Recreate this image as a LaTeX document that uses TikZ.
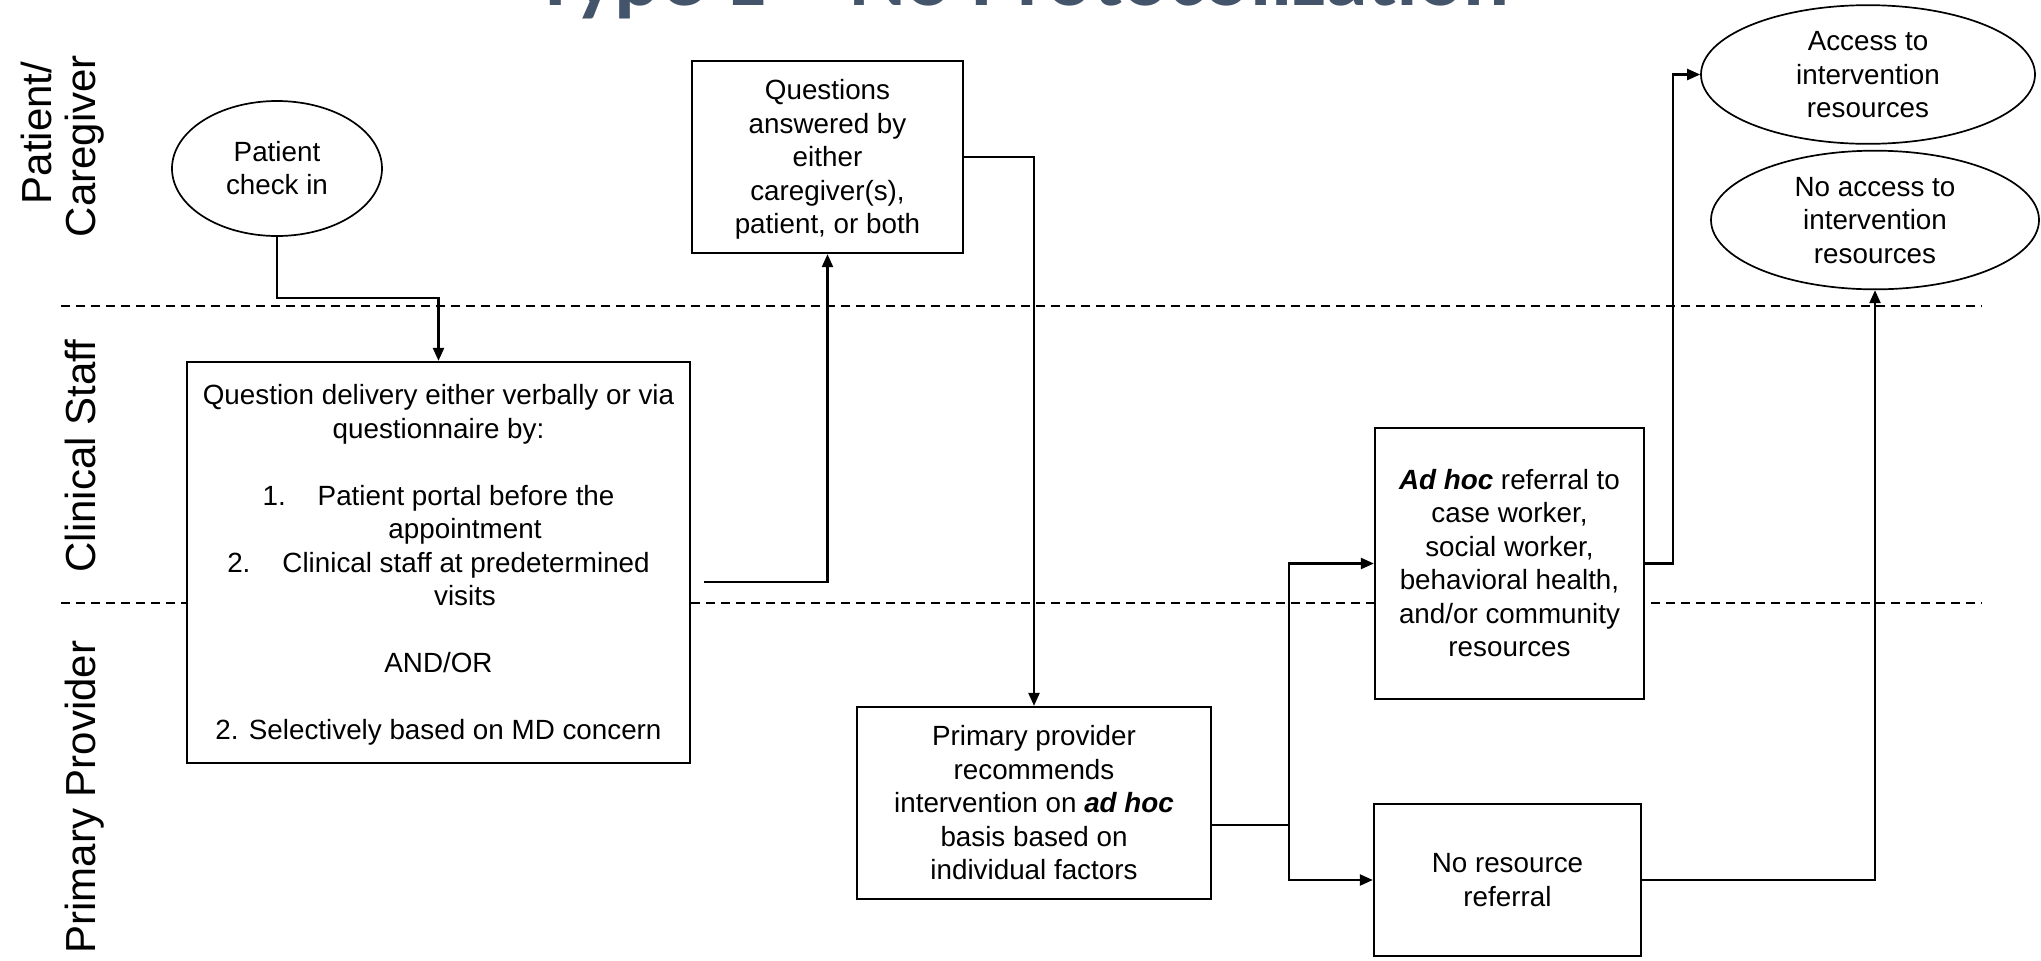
\documentclass[tikz,border=0pt]{standalone}
\usepackage{fontspec}
\setmainfont{Liberation Sans}
\newfontfamily\titlefont{Carlito}
\usetikzlibrary{arrows.meta,shapes.geometric,calc}
\definecolor{titleblue}{HTML}{44546A}
\newcommand\mytop{\rule{0pt}{0.905em}}
\newcommand\mybot{\rule[-0.212em]{0pt}{0.212em}}
\begin{document}
\begin{tikzpicture}[x=0.5pt,y=-0.5pt,
  every node/.style={font=\fontsize{13.9}{16.75}\selectfont, inner sep=0pt},
  box/.style={draw, line width=1.15pt, fill=white, rectangle, align=center},
  oval/.style={draw, line width=0.85pt, fill=white, ellipse, align=center},
  conn/.style={line width=1.15pt},
  arr/.style={conn, -{Triangle[length=6.5pt,width=5.5pt]}},
  lane/.style={dash pattern=on 4.5pt off 3pt, line width=0.9pt},
  lanelabel/.style={rotate=90, anchor=base, font=\fontsize{21}{25}\selectfont}]
\useasboundingbox (0,0) rectangle (2041,960);
\fill[white] (0,0) rectangle (2041,960);
% title (cut at top)
\begin{scope}
\clip (0,0) rectangle (2041,960);
\node[anchor=base, text=titleblue, font=\titlefont\bfseries\fontsize{43}{50}\selectfont] (title) at (1022,5) {Type 1 – No Protocolization};
\end{scope}
% lanes
\coordinate (l1a) at (61,306); \coordinate (l1b) at (1982,306);
\coordinate (l2a) at (61,603); \coordinate (l2b) at (1982,603);
\draw[lane] (l1a) -- (l1b);
\draw[lane] (l2a) -- (l2b);
% lane labels
\node[lanelabel] (lp1) at (51,133) {Patient/};
\node[lanelabel] (lp2) at (95,146) {Caregiver};
\node[lanelabel] (lcs) at (95,456) {Clinical Staff};
\node[lanelabel] (lpp) at (95,797) {Primary Provider};
% nodes
\node[oval, minimum width=105pt, minimum height=67.5pt] (pci) at (277,168.5) {\mytop Patient\\check in\mybot};
\node[box, minimum width=251.5pt, minimum height=200.5pt] (qd) at (438.5,562.5) {\mytop Question delivery either verbally or via\\questionnaire by:\\[16.75pt]1.\hspace{16pt}Patient portal before the\\\hspace*{26.5pt}appointment\\2.\hspace{16pt}Clinical staff at predetermined\\\hspace*{26.5pt}visits\\[16.75pt]AND/OR\\[16.75pt]2. Selectively based on MD concern\mybot};
\node[box, minimum width=135.5pt, minimum height=96pt] (qa) at (827.5,157) {\mytop Questions\\answered by\\either\\caregiver(s),\\patient, or both\mybot};
\node[box, minimum width=177pt, minimum height=96pt] (pp) at (1034,803) {\mytop Primary provider\\recommends\\intervention on \textbf{\textit{ad hoc}}\\basis based on\\individual factors\mybot};
\node[box, minimum width=134.5pt, minimum height=135.5pt] (ah) at (1509.5,563.5) {\mytop\textbf{\textit{Ad hoc}} referral to\\case worker,\\social worker,\\behavioral health,\\and/or community\\resources\mybot};
\node[box, minimum width=133.5pt, minimum height=76pt] (nr) at (1507.5,880) {\mytop No resource\\referral\mybot};
\node[oval, minimum width=167pt, minimum height=67pt] (acc) at (1868,74.5) {\mytop Access to\\intervention\\resources\mybot};
\node[oval, minimum width=164pt, minimum height=66.5pt] (noacc) at (1875,220) {\mytop No access to\\intervention\\resources\mybot};
% connectors
\coordinate (j1) at (277,298);
\draw[arr] (pci.south) -- (pci.south |- j1) -| (qd.north);
\coordinate (c2) at (704,582);
\draw[arr] (c2) -| (qa.south);
\draw[arr] (qa.east) -| (pp.north);
\coordinate (split) at (1289,825);
\draw[conn] (pp.east |- split) -- (split);
\draw[arr] (split) |- (ah.west);
\draw[arr] (split) |- (nr.west);
\coordinate (c5) at (1673,563.5);
\draw[arr] (ah.east) -| (c5 |- acc.west) -- (acc.west);
\draw[arr] (nr.east) -| (noacc.south);
\end{tikzpicture}
\end{document}
